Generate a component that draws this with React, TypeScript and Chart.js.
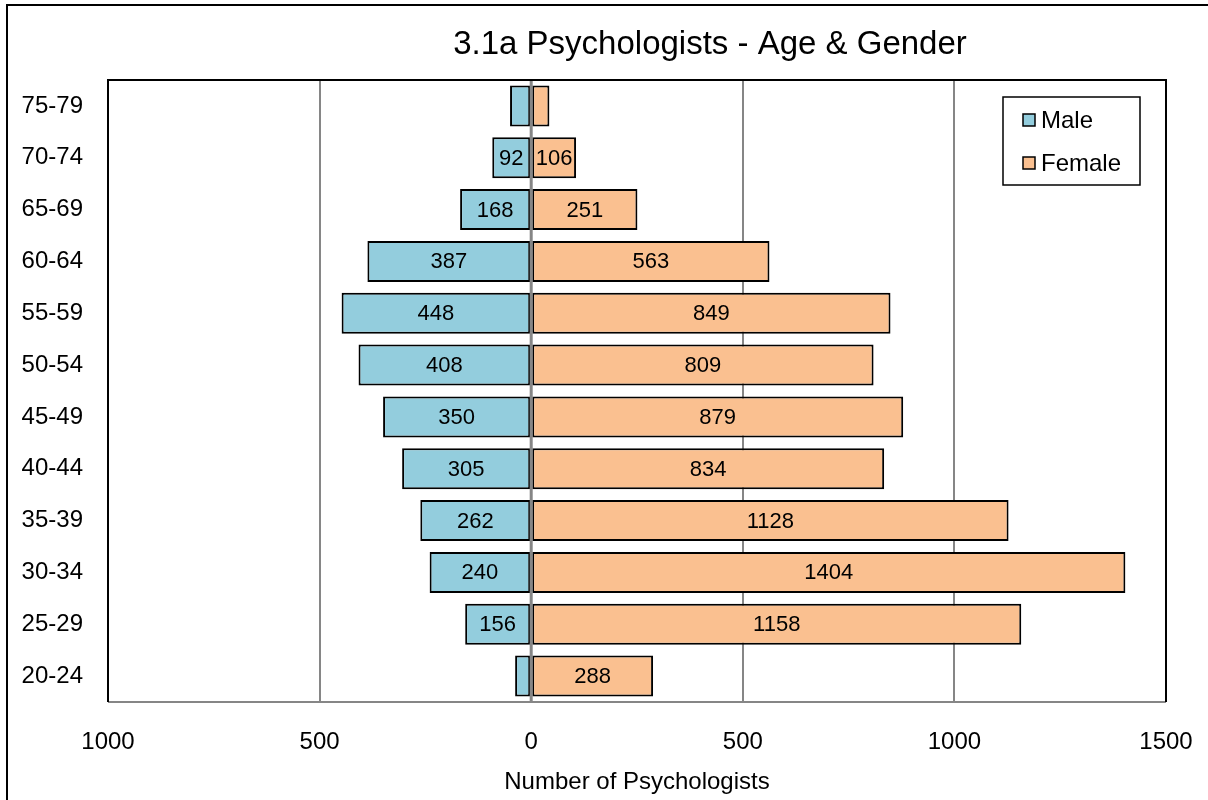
import React, { useEffect, useRef } from "react";
import { Chart, registerables } from "chart.js";

Chart.register(...registerables);

const ageGroups = ["75-79", "70-74", "65-69", "60-64", "55-59", "50-54", "45-49", "40-44", "35-39", "30-34", "25-29", "20-24"];
const maleCounts = [50, 92, 168, 387, 448, 408, 350, 305, 262, 240, 156, 38];
const femaleCounts = [43, 106, 251, 563, 849, 809, 879, 834, 1128, 1404, 1158, 288];
const seriesNames = ["Male", "Female"];
const xTickMin = -1000;
const xTickMax = 1500;
const xTickStep = 500;
const chartTitle = "3.1a Psychologists - Age & Gender";
const xAxisTitle = "Number of Psychologists";
const labelThreshold = 80;

const MALE_COLOR = "#93CDDD";
const FEMALE_COLOR = "#FAC090";
const FONT = "'Liberation Sans', Arial, sans-serif";

export default function App() {
  const ref = useRef<HTMLCanvasElement | null>(null);

  useEffect(() => {
    document.body.style.margin = "0";
    const canvas = ref.current;
    if (!canvas) return;

    const decorPlugin = {
      id: "decor",
      beforeDraw(chart: any) {
        const ctx = chart.ctx;
        ctx.save();
        ctx.fillStyle = "#ffffff";
        ctx.fillRect(0, 0, chart.width, chart.height);
        ctx.strokeStyle = "#000000";
        ctx.lineWidth = 2;
        ctx.strokeRect(7, 5, 1400, 900);
        ctx.restore();
      },
      afterDatasetsDraw(chart: any) {
        const ctx = chart.ctx;
        const { left, right, top, bottom } = chart.chartArea;
        const xs = chart.scales.x;
        ctx.save();
        // zero line
        const x0 = xs.getPixelForValue(0);
        ctx.strokeStyle = "#868686";
        ctx.lineWidth = 3;
        ctx.beginPath();
        ctx.moveTo(x0, top);
        ctx.lineTo(x0, bottom);
        ctx.stroke();
        // bottom axis line
        ctx.lineWidth = 2;
        ctx.beginPath();
        ctx.moveTo(left, bottom);
        ctx.lineTo(right, bottom);
        ctx.stroke();
        // plot border top/left/right
        ctx.strokeStyle = "#000000";
        ctx.lineWidth = 2;
        ctx.beginPath();
        ctx.moveTo(left, bottom);
        ctx.lineTo(left, top);
        ctx.lineTo(right, top);
        ctx.lineTo(right, bottom);
        ctx.stroke();

        // data labels
        ctx.fillStyle = "#000000";
        ctx.font = `22px ${FONT}`;
        ctx.textAlign = "center";
        ctx.textBaseline = "middle";
        const sources = [maleCounts, femaleCounts];
        chart.data.datasets.forEach((ds: any, di: number) => {
          const meta = chart.getDatasetMeta(di);
          meta.data.forEach((bar: any, i: number) => {
            const v = sources[di][i];
            if (v < labelThreshold) return;
            const cx = (bar.x + bar.base) / 2;
            ctx.fillText(String(v), cx, bar.y + 1);
          });
        });

        // title
        ctx.font = `33px ${FONT}`;
        ctx.fillText(chartTitle, 710, 45);

        // legend
        ctx.lineWidth = 1.5;
        ctx.strokeStyle = "#000000";
        ctx.strokeRect(1003, 97, 137, 88);
        const colors = [MALE_COLOR, FEMALE_COLOR];
        const ys = [120, 163];
        ctx.font = `24px ${FONT}`;
        ctx.textAlign = "left";
        seriesNames.forEach((name, k) => {
          ctx.fillStyle = colors[k];
          ctx.fillRect(1023, ys[k] - 6, 12, 12);
          ctx.strokeStyle = "#000000";
          ctx.lineWidth = 1.5;
          ctx.strokeRect(1023, ys[k] - 6, 12, 12);
          ctx.fillStyle = "#000000";
          ctx.fillText(name, 1041, ys[k] + 1);
        });
        ctx.restore();
      },
    };

    const chart = new Chart(canvas, {
      type: "bar",
      data: {
        labels: ageGroups,
        datasets: [
          {
            label: seriesNames[0],
            data: maleCounts.map((v) => -v),
            backgroundColor: MALE_COLOR,
            borderColor: "#000000",
            borderWidth: 2,
            borderSkipped: false,
          },
          {
            label: seriesNames[1],
            data: femaleCounts,
            backgroundColor: FEMALE_COLOR,
            borderColor: "#000000",
            borderWidth: 2,
            borderSkipped: false,
          },
        ],
      },
      options: {
        indexAxis: "y",
        animation: false,
        responsive: false,
        devicePixelRatio: 1,
        layout: { padding: { left: 0, top: 80, right: 42, bottom: 0 } },
        datasets: { bar: { barPercentage: 0.79, categoryPercentage: 1 } },
        plugins: {
          legend: { display: false },
          title: { display: false },
          tooltip: { enabled: false },
        },
        scales: {
          x: {
            type: "linear",
            stacked: true,
            min: xTickMin,
            max: xTickMax,
            afterFit: (s: any) => {
              s.height = 98;
              s.paddingLeft = 0;
              s.paddingRight = 0;
            },
            ticks: {
              stepSize: xTickStep,
              padding: 26,
              color: "#000000",
              font: { family: FONT, size: 24 },
              callback: (v: any) => String(Math.abs(Number(v))),
            },
            grid: {
              drawTicks: false,
              color: (c: any) =>
                c.tick && (c.tick.value === xTickMin || c.tick.value === xTickMax || c.tick.value === 0)
                  ? "rgba(0,0,0,0)"
                  : "#868686",
              lineWidth: 2,
            },
            border: { display: false },
            title: {
              display: true,
              text: xAxisTitle,
              color: "#000000",
              font: { family: FONT, size: 24 },
              padding: { top: 0, bottom: 3 },
            },
          },
          y: {
            type: "category",
            stacked: true,
            afterFit: (s: any) => {
              s.width = 108;
            },
            ticks: {
              padding: 25,
              color: "#000000",
              font: { family: FONT, size: 24 },
            },
            grid: { display: false, drawTicks: false },
            border: { display: false },
          },
        },
      },
      plugins: [decorPlugin],
    });

    return () => chart.destroy();
  }, []);

  return <canvas ref={ref} width={1208} height={800} style={{ display: "block" }} />;
}
